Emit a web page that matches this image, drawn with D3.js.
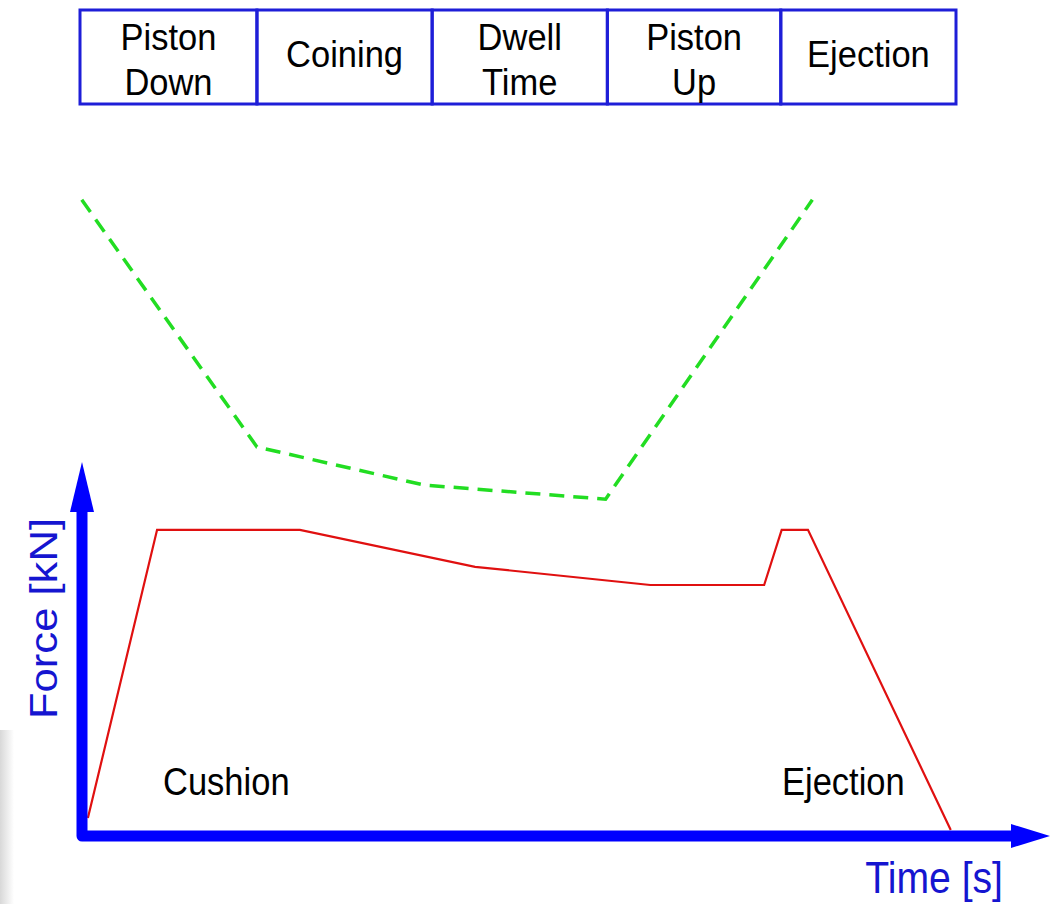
<!DOCTYPE html>
<html>
<head>
<meta charset="utf-8">
<script src="https://cdn.jsdelivr.net/npm/d3@7"></script>
<style>
  html, body { margin: 0; padding: 0; background: #fff; }
  svg { display: block; font-family: "Liberation Sans", Arial, sans-serif; }
</style>
</head>
<body>
<svg id="chart" width="1050" height="904"></svg>
<script>
// phases along the top (time units 0..100)
const phaseNames = [['Piston', 'Down'], ['Coining'], ['Dwell', 'Time'], ['Piston', 'Up'], ['Ejection']];
const phaseEdges = [0, 20.2, 40.2, 60.2, 80.0, 100];

// force curve (red)
const forceT = [0.9, 8.8, 25.1, 45.1, 65.1, 78.1, 80.1, 83.1, 99.4];
const forceV = [4.3, 82.2, 82.2, 72.2, 67.3, 67.3, 82.2, 82.2, 1.1];

// piston path (green dashed)
const pistonT = [0.2, 20.2, 39.3, 60.0, 83.6];
const pistonV = [171.4, 104.6, 94.3, 90.5, 171.4];

const svg = d3.select('#chart');

const x = d3.scaleLinear().domain([0, 100]).range([80, 956]);
const y = d3.scaleLinear().domain([0, 100]).range([834, 464]);

// text that is a bit narrower than the font draws it
function label(parent, tx, ty, str, size, sx, anchor, fill) {
    return parent.append('g')
        .attr('transform', 'translate(' + tx + ',' + ty + ') scale(' + sx + ',1)')
        .append('text')
        .attr('text-anchor', anchor)
        .attr('font-size', size)
        .attr('fill', fill)
        .text(str);
}

// faint grey edge at bottom left
const grad = svg.append('defs').append('linearGradient')
    .attr('id', 'edge').attr('x1', 0).attr('x2', 1);
grad.append('stop').attr('offset', 0).attr('stop-color', '#d8d8d8');
grad.append('stop').attr('offset', 1).attr('stop-color', '#ffffff');
svg.append('rect').attr('x', 0).attr('y', 730).attr('width', 14).attr('height', 174)
    .attr('fill', 'url(#edge)');

// header boxes
const head = svg.append('g');
const boxTop = 10, boxBot = 104;
phaseNames.forEach(function(lines, i) {
    const x0 = x(phaseEdges[i]), x1 = x(phaseEdges[i + 1]);
    head.append('rect')
        .attr('x', x0).attr('y', boxTop)
        .attr('width', x1 - x0).attr('height', boxBot - boxTop)
        .attr('fill', 'none').attr('stroke', '#1e1ed8').attr('stroke-width', 3);
    const cx = (x0 + x1) / 2;
    if (lines.length === 2) {
        label(head, cx, 50, lines[0], 37.5, 0.92, 'middle', '#000');
        label(head, cx, 95, lines[1], 37.5, 0.92, 'middle', '#000');
    } else {
        label(head, cx, 67, lines[0], 37.5, 0.92, 'middle', '#000');
    }
});

// curves
const line = d3.line().x(d => x(d[0])).y(d => y(d[1]));

svg.append('path')
    .datum(d3.zip(pistonT, pistonV))
    .attr('d', line)
    .attr('fill', 'none')
    .attr('stroke', '#22dd22')
    .attr('stroke-width', 3.5)
    .attr('stroke-dasharray', '15,9');

svg.append('path')
    .datum(d3.zip(forceT, forceV))
    .attr('d', line)
    .attr('fill', 'none')
    .attr('stroke', '#e01010')
    .attr('stroke-width', 2.2);

// axes (thick blue arrows)
const blue = '#0000ff';
const ax = svg.append('g');
ax.append('path')
    .attr('d', 'M82,510 L82,836 L1014,836')
    .attr('fill', 'none').attr('stroke', blue)
    .attr('stroke-width', 11).attr('stroke-linejoin', 'round').attr('stroke-linecap', 'round');
ax.append('path')
    .attr('d', 'M82,462 L94,512 L70,512 Z')
    .attr('fill', blue);
ax.append('path')
    .attr('d', 'M1050,836 L1011,824 L1011,848 Z')
    .attr('fill', blue);

label(ax, 1003, 893, 'Time [s]', 44, 0.89, 'end', '#1515d0');

ax.append('text')
    .attr('transform', 'translate(57,719) rotate(-90)')
    .attr('font-size', 39)
    .attr('fill', '#1515d0')
    .attr('textLength', 201)
    .attr('lengthAdjust', 'spacingAndGlyphs')
    .text('Force [kN]');

// phase annotations
label(svg, 163, 795, 'Cushion', 39, 0.885, 'start', '#000');
label(svg, 782, 795, 'Ejection', 39, 0.885, 'start', '#000');
</script>
</body>
</html>
